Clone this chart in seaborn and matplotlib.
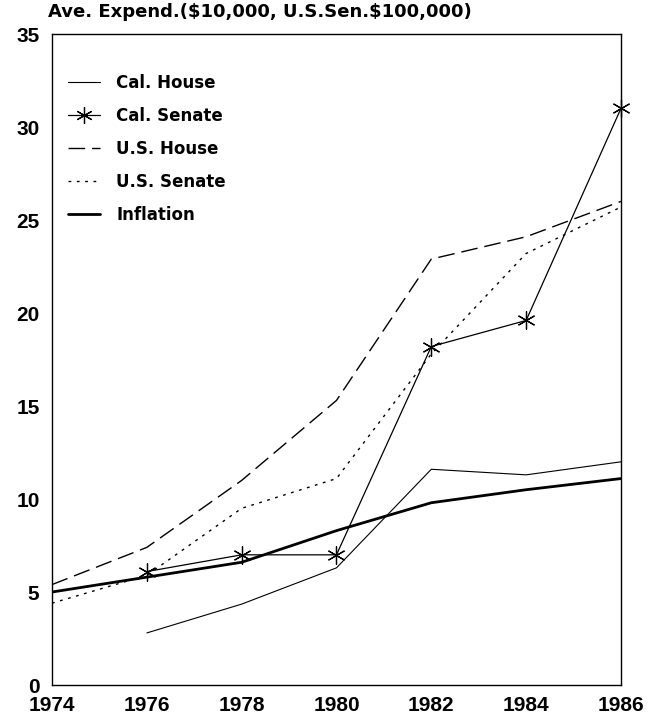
import pandas as pd
import matplotlib
matplotlib.use("Agg")
import matplotlib.pyplot as plt
from matplotlib.lines import Line2D
import seaborn as sns

# valores
anos = [1974, 1976, 1978, 1980, 1982, 1984, 1986]
cal_house = [None, 2.8, 4.35, 6.3, 11.6, 11.3, 12.0]
cal_senate = [None, 6.1, 7.0, 7.0, 18.2, 19.6, 31.0]
us_house = [5.4, 7.4, 11.0, 15.3, 22.9, 24.1, 26.0]
us_senate = [4.4, 5.9, 9.5, 11.1, 17.8, 23.2, 25.7]
inflation = [5.0, 5.8, 6.6, 8.3, 9.8, 10.5, 11.1]

series = {
    "Cal. House": cal_house,
    "Cal. Senate": cal_senate,
    "U.S. House": us_house,
    "U.S. Senate": us_senate,
    "Inflation": inflation,
}

linhas = []
for nome, valores in series.items():
    for ano, v in zip(anos, valores):
        if v is not None:
            linhas.append({"ano": ano, "valor": v, "serie": nome})
df = pd.DataFrame(linhas)

sns.set_style("white")
plt.rcParams["font.family"] = ["Liberation Sans", "DejaVu Sans"]
plt.rcParams["font.weight"] = "bold"
plt.rcParams["text.color"] = "black"
plt.rcParams["xtick.color"] = "black"
plt.rcParams["ytick.color"] = "black"

fig = plt.figure(figsize=(6.55, 7.21), dpi=100)
ax = fig.add_axes([0.0794, 0.0499, 0.8686, 0.9029])

asterisco = (6, 2, 0)
estilos = {
    "Cal. House": dict(lw=0.8, ls="-"),
    "Cal. Senate": dict(lw=0.9, ls="-"),
    "U.S. House": dict(lw=1.0, ls=(0, (12, 5))),
    "U.S. Senate": dict(lw=1.0, ls=(0, (2, 4))),
    "Inflation": dict(lw=2.0, ls="-"),
}

for nome in series:
    sub = df[df["serie"] == nome]
    sns.lineplot(data=sub, x="ano", y="valor", ax=ax, color="black",
                 legend=False, **estilos[nome])

# asteriscos do Cal. Senate
sub = df[df["serie"] == "Cal. Senate"]
sns.scatterplot(data=sub, x="ano", y="valor", ax=ax, marker=asterisco, s=160,
                color="black", linewidth=0.9, legend=False, zorder=5, clip_on=False)

ax.set_xlim(1974, 1986)
ax.set_ylim(0, 35)
ax.set_xticks(range(1974, 1987, 2))
ax.set_yticks(range(0, 36, 5))
ax.set_xlabel("")
ax.set_ylabel("")
ax.tick_params(direction="in", length=7, width=1, labelsize=15,
               color="black", labelcolor="black")
ax.tick_params(axis="x", pad=8)
ax.tick_params(axis="y", pad=9)
for s in ax.spines.values():
    s.set_visible(True)
    s.set_color("black")
    s.set_linewidth(1.0)
for lab in ax.get_xticklabels() + ax.get_yticklabels():
    lab.set_fontweight("bold")

handles = []
for nome in series:
    kw = dict(estilos[nome])
    if nome == "Cal. Senate":
        kw.update(marker=asterisco, markersize=12, mew=0.9)
    handles.append(Line2D([], [], color="black", **kw))

leg = ax.legend(handles, list(series.keys()), loc="upper left", frameon=False,
                prop={"family": "DejaVu Sans", "weight": "bold", "size": 12},
                handlelength=1.9, labelspacing=0.9, handletextpad=1.0,
                borderaxespad=0, bbox_to_anchor=(0.0163, 0.949))
for t in leg.get_texts():
    t.set_color("black")

fig.text(0.073, 0.983, r"Ave. Expend.(\$10,000, U.S.Sen.\$100,000)", fontsize=13,
         fontweight="bold", family="DejaVu Sans", color="black",
         ha="left", va="center")

fig.savefig("out.png", dpi=100)
